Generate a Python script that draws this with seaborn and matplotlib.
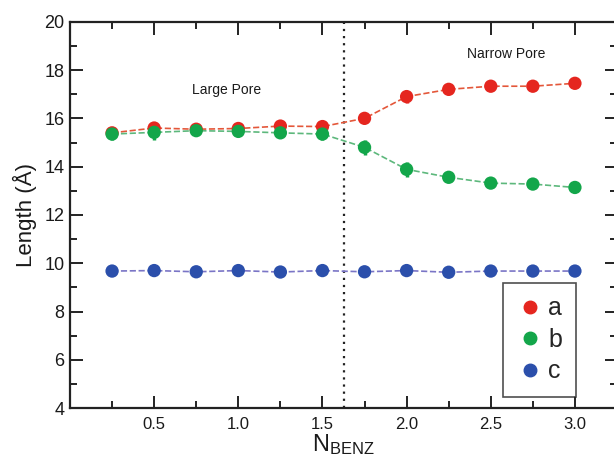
import numpy as np
import pandas as pd
import matplotlib
matplotlib.use("Agg")
import matplotlib.pyplot as plt
from matplotlib.lines import Line2D
from matplotlib.ticker import MultipleLocator
import seaborn as sns

# ---- data ----
n_benz = [0.25, 0.5, 0.75, 1.0, 1.25, 1.5, 1.75, 2.0, 2.25, 2.5, 2.75, 3.0]
len_a = [15.40, 15.60, 15.55, 15.58, 15.68, 15.66, 16.00, 16.90, 17.20, 17.33, 17.33, 17.45]
len_b = [15.35, 15.42, 15.49, 15.46, 15.40, 15.35, 14.80, 13.89, 13.56, 13.32, 13.28, 13.14]
len_c = [9.68, 9.70, 9.65, 9.70, 9.64, 9.70, 9.65, 9.70, 9.63, 9.68, 9.68, 9.68]
err_a = [0.10, 0.12, 0.08, 0.08, 0.10, 0.10, 0.12, 0.25, 0.10, 0.08, 0.08, 0.08]
err_b = [0.25, 0.30, 0.10, 0.10, 0.10, 0.25, 0.30, 0.30, 0.12, 0.08, 0.08, 0.08]
err_c = [0.05] * 12
series_names = ["a", "b", "c"]
marker_colors = ["#e5261f", "#13a64a", "#2b4fab"]
line_colors = ["#e4573a", "#5db87c", "#7a75c6"]
boundary_x = 1.625
region_labels = ["Large Pore", "Narrow Pore"]
region_pos = [(0.93, 17.17), (2.594, 18.65)]

df = pd.DataFrame({
    "N": n_benz * 3,
    "Length": len_a + len_b + len_c,
    "err": err_a + err_b + err_c,
    "series": sum([[s] * len(n_benz) for s in series_names], []),
})

sns.set_theme(style="ticks")
plt.rcParams["font.family"] = ["Liberation Sans", "DejaVu Sans"]
plt.rcParams["mathtext.default"] = "regular"

fig = plt.figure(figsize=(6.14, 4.58), dpi=100)
ax = fig.add_axes([70 / 614, (458 - 408.3) / 458, 547 / 614, (408.3 - 21.7) / 458])

for name, mc, lc in zip(series_names, marker_colors, line_colors):
    sub = df[df["series"] == name]
    ax.errorbar(sub["N"], sub["Length"], yerr=sub["err"], fmt="none",
                ecolor=mc, elinewidth=2.5, capsize=0, zorder=3)
    sns.lineplot(data=sub, x="N", y="Length", ax=ax, color=lc, linestyle="--",
                 linewidth=1.2, marker=None, legend=False, zorder=2)
    sns.scatterplot(data=sub, x="N", y="Length", ax=ax, color=mc, s=92,
                    edgecolor="none", legend=False, zorder=4)

ax.axvline(boundary_x, color="#222222", linestyle=(0, (1, 2.2)), linewidth=1.6, zorder=1)

for txt, (xx, yy) in zip(region_labels, region_pos):
    ax.text(xx, yy, txt, ha="center", va="center", fontsize=10, color="#1a1a1a")

ax.set_xlim(0, 3.25)
ax.set_ylim(4, 20)
ax.xaxis.set_major_locator(MultipleLocator(0.5))
ax.xaxis.set_minor_locator(MultipleLocator(0.25))
ax.yaxis.set_major_locator(MultipleLocator(2))
ax.yaxis.set_minor_locator(MultipleLocator(1))
ax.set_xticks([0.5, 1.0, 1.5, 2.0, 2.5, 3.0])
ax.set_xticklabels(["0.5", "1.0", "1.5", "2.0", "2.5", "3.0"])
ax.tick_params(which="both", direction="in", top=True, right=True, color="#222222", width=1.4,
               labelcolor="#1a1a1a")
ax.tick_params(which="major", length=9)
ax.tick_params(which="minor", length=5)
ax.tick_params(axis="x", labelsize=12, pad=6)
ax.tick_params(axis="y", labelsize=13, pad=4)
for sp in ax.spines.values():
    sp.set_linewidth(1.6)
    sp.set_color("#222222")

ax.set_xlabel("N$_{BENZ}$", fontsize=17, labelpad=0, color="#1a1a1a")
ax.set_ylabel("Length (Å)", fontsize=16, labelpad=5, color="#1a1a1a")

handles = [Line2D([], [], marker="o", linestyle="none", color=c, markersize=9)
           for c in marker_colors]
leg = ax.legend(handles, series_names, loc="lower right",
                bbox_to_anchor=(506 / 547, 11.3 / 386.6),
                fontsize=18, frameon=True, fancybox=False, handletextpad=0.25,
                borderpad=0.55, labelspacing=0.3, handlelength=1.0, borderaxespad=0)
leg.get_frame().set_edgecolor("#222222")
leg.get_frame().set_linewidth(1.2)

fig.savefig("out.png", dpi=100, facecolor="white")
